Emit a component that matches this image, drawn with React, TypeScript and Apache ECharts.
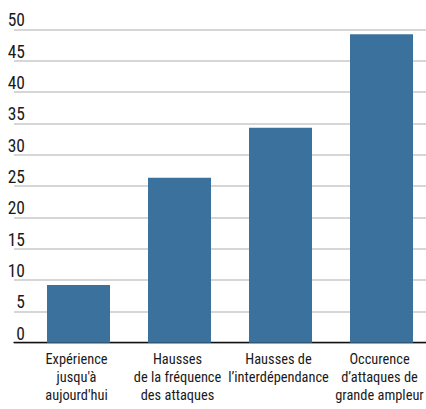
import React, { useEffect, useRef } from "react";
import * as echarts from "echarts";

const categories = [
  "Expérience\njusqu'à\naujourd'hui",
  "Hausses\nde la fréquence\ndes attaques",
  "Hausses de\nl’interdépendance",
  "Occurence\nd’attaques de\ngrande ampleur",
];
const values = [9.2, 26.3, 34.3, 49.2];
const yMin = 0;
const yMax = 50;
const yStep = 5;

const FONT = "'Noto Sans Condensed', 'Roboto Condensed', 'Liberation Sans Narrow', 'Liberation Sans', sans-serif";

export default function App() {
  const ref = useRef<HTMLDivElement>(null);
  useEffect(() => {
    if (!ref.current) return;
    const chart = echarts.init(ref.current, undefined, { renderer: "svg" });
    const top = 29.3;
    const bottom = 66.3;
    chart.setOption({
      animation: false,
      backgroundColor: "#ffffff",
      grid: [
        { left: 14, right: 0, top, bottom, outerBoundsMode: "none" },
        { left: 28, right: -6, top, bottom, outerBoundsMode: "none" },
      ],
      xAxis: [
        {
          type: "category",
          gridIndex: 0,
          data: [""],
          axisLine: { show: true, lineStyle: { color: "#111111", width: 1.3 } },
          axisTick: { show: false },
          axisLabel: { show: false },
          splitLine: { show: false },
        },
        {
          type: "category",
          gridIndex: 1,
          data: categories,
          axisLine: { show: false },
          axisTick: { show: false },
          axisLabel: {
            interval: 0,
            margin: 8,
            color: "#1a1a1a",
            fontFamily: FONT,
            fontSize: 14.4,
            lineHeight: 18,
            align: "center",
            padding: [0, 4, 0, 0],
          },
        },
      ],
      yAxis: [
        {
          type: "value",
          gridIndex: 0,
          min: yMin,
          max: yMax,
          interval: yStep,
          axisLine: { show: false },
          axisTick: { show: false },
          axisLabel: {
            margin: -11,
            align: "right",
            verticalAlign: "bottom",
            lineHeight: 18,
            color: "#1a1a1a",
            fontFamily: FONT,
            fontSize: 17.5,
          },
          splitLine: { show: true, lineStyle: { color: "#c8c8c8", width: 1.5 } },
        },
        {
          type: "value",
          gridIndex: 1,
          min: yMin,
          max: yMax,
          interval: yStep,
          show: false,
          splitLine: { show: false },
        },
      ],
      series: [
        {
          type: "bar",
          xAxisIndex: 1,
          yAxisIndex: 1,
          data: values,
          barWidth: 63,
          itemStyle: { color: "#3b719d" },
          z: 3,
        },
      ],
    });
    return () => chart.dispose();
  }, []);
  return (
    <div
      ref={ref}
      style={{ position: "fixed", left: 0, top: 0, width: 426, height: 409 }}
    />
  );
}
